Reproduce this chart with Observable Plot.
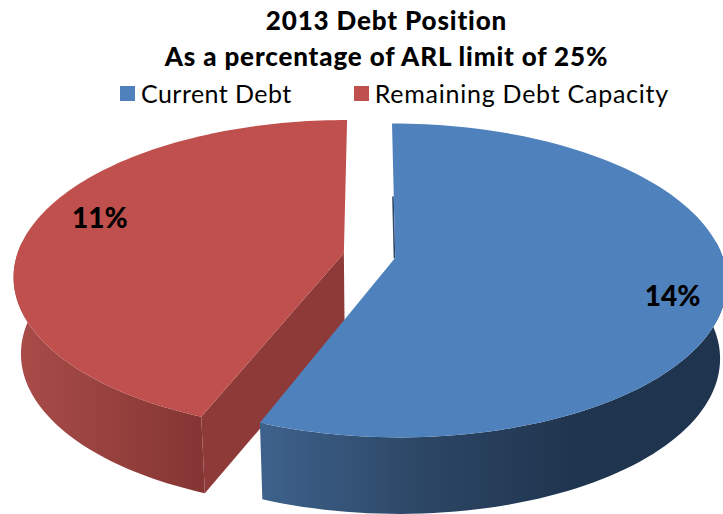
<!DOCTYPE html>
<html>
<head>
<meta charset="utf-8">
<script src="https://cdn.jsdelivr.net/npm/d3@7"></script>
<script src="https://cdn.jsdelivr.net/npm/@observablehq/plot@0.6"></script>
<style>
  html, body { margin: 0; padding: 0; background: #fff; }
  #page { width: 723px; font-family: Lato, "Open Sans", sans-serif; color: #000; }
  #heading { height: 110px; position: relative; overflow: hidden; }
  #heading .line { position: absolute; left: 50px; right: 0; text-align: center; font-weight: 900; font-size: 26px; line-height: 32px; letter-spacing: 0.85px; }
  #legend { position: absolute; top: 77px; left: 120px; display: flex; align-items: center; font-size: 25px; line-height: 32px; white-space: nowrap; }
  #legend i { display: inline-block; width: 15px; height: 15px; margin-right: 6px; }
  #legend span.item { display: flex; align-items: center; }
  svg { display: block; }
</style>
</head>
<body>
<div id="page">
  <div id="heading"></div>
  <div id="chart"></div>
</div>
<script>
// Debt position figures, in percentage points of the 25% limit.
const categories = ["Current Debt", "Remaining Debt Capacity"];
const debtShares = [14, 11];
const shareLabels = ["14%", "11%"];
const titleLines = ["2013 Debt Position", "As a percentage of ARL limit of 25%"];

const topColors = ["#4f81bd", "#c0504d"];
const radialWallColors = ["#2c4663", "#8e3a38"];
const wallStops = [
  [[0, "#3e628c"], [0.37, "#2b4563"], [0.7, "#1f344e"], [1, "#1f344e"]],
  [[0, "#a84c48"], [1, "#853634"]]
];
const wallGradientExtent = [[258, 723], [20, 198]];
const legendSpacing = ["0.45px", "0.75px"];

// Camera settings for the tilted disc: perspective strength, explode distance,
// wall thickness and the point the walls converge towards.
const perspective = 0.144;
const explode = 0.08;
const wallDepth = 0.5;
const vanishX = 0.036;
const vanishPull = 0.02;
const labelTurn = 6 * Math.PI / 180;
const labelRadius = [0.85, 0.81];

// Scale settings: the plane's origin and unit lengths in the page.
const width = 723, height = 404, headerHeight = 110;
const originX = 369, originY = 255, unitX = 327, unitY = 153;

const arcs = d3.pie().sort(null)(debtShares);

function project(angle, radius, arc) {
  const mid = (arc.startAngle + arc.endAngle) / 2;
  const X = radius * Math.sin(angle) + explode * Math.sin(mid);
  const Y = -radius * Math.cos(angle) - explode * Math.cos(mid);
  const w = 1 - perspective * Y;
  return {x: X / w, y: Y / w};
}
const drop = (p) => ({x: p.x + (vanishX - p.x) * vanishPull, y: p.y + wallDepth});

const rim = (arc) => {
  const n = 120;
  return d3.range(n + 1).map((i) =>
    project(arc.startAngle + (arc.endAngle - arc.startAngle) * i / n, 1, arc));
};

const slices = arcs.map((arc, i) => {
  const edge = rim(arc);
  // Only the near part of the rim shows a wall; the far part stays behind the top face.
  const nearEdge = edge.filter((p) => p.y > -0.1);
  const apex = project(0, 0, arc);
  const corner = project(arc.startAngle, 1, arc);
  const mid = (arc.startAngle + arc.endAngle) / 2;
  return {
    index: i,
    top: [apex, ...edge],
    wall: [...nearEdge, ...nearEdge.map(drop).reverse()],
    radialWall: [apex, corner, drop(corner), drop(apex)],
    innerEdge: [project(arc.startAngle, 0.42, arc), apex],
    label: {...project(mid + labelTurn, labelRadius[i], arc), text: shareLabels[i]}
  };
});

// Gradient definitions for the curved walls.
function wallGradients() {
  const defs = d3.create("svg:defs");
  wallStops.forEach((stops, i) => {
    const g = defs.append("linearGradient")
      .attr("id", `wall-${i}`)
      .attr("gradientUnits", "userSpaceOnUse")
      .attr("x1", wallGradientExtent[i][0]).attr("x2", wallGradientExtent[i][1])
      .attr("y1", 0).attr("y2", 0);
    stops.forEach(([o, c]) => g.append("stop").attr("offset", o).attr("stop-color", c));
  });
  return defs.node();
}

const poly = (points, fill) => Plot.line(points, {x: "x", y: "y", fill, stroke: "none", curve: "linear"});

// Red slice goes first: the blue slice sits in front of its cut wall.
const marks = [wallGradients];
for (const i of [1, 0]) {
  const s = slices[i];
  marks.push(poly(s.wall, `url(#wall-${i})`));
  if (i === 1) marks.push(poly(s.radialWall, radialWallColors[i]));
  if (i === 0) marks.push(Plot.line(s.innerEdge, {x: "x", y: "y", stroke: radialWallColors[i], strokeWidth: 1.6, dx: -0.8}));
  marks.push(poly(s.top, topColors[i]));
}
marks.push(Plot.text(slices.map((s) => s.label), {
  x: "x", y: "y", text: "text", fontSize: 28, fontWeight: 900, fill: "#000",
  textAnchor: "middle", lineAnchor: "middle"
}));

const chart = Plot.plot({
  width, height,
  margin: 0,
  style: {background: "#fff", fontFamily: "Lato, 'Open Sans', sans-serif", overflow: "hidden"},
  x: {domain: [-originX / unitX, (width - originX) / unitX], range: [0, width], axis: null},
  y: {domain: [(headerHeight - originY) / unitY, (headerHeight + height - originY) / unitY], range: [0, height], axis: null},
  marks
});
document.getElementById("chart").append(chart);

// Title lines and legend above the plot.
const heading = d3.select("#heading");
titleLines.forEach((t, i) => {
  heading.append("div").attr("class", "line").style("top", `${4 + i * 36}px`).text(t);
});
const legend = heading.append("div").attr("id", "legend");
categories.forEach((c, i) => {
  const item = legend.append("span").attr("class", "item").style("margin-right", i === 0 ? "62px" : "0");
  item.append("i").style("background", topColors[i]);
  item.append("span").style("letter-spacing", legendSpacing[i]).text(c);
});
</script>
</body>
</html>
